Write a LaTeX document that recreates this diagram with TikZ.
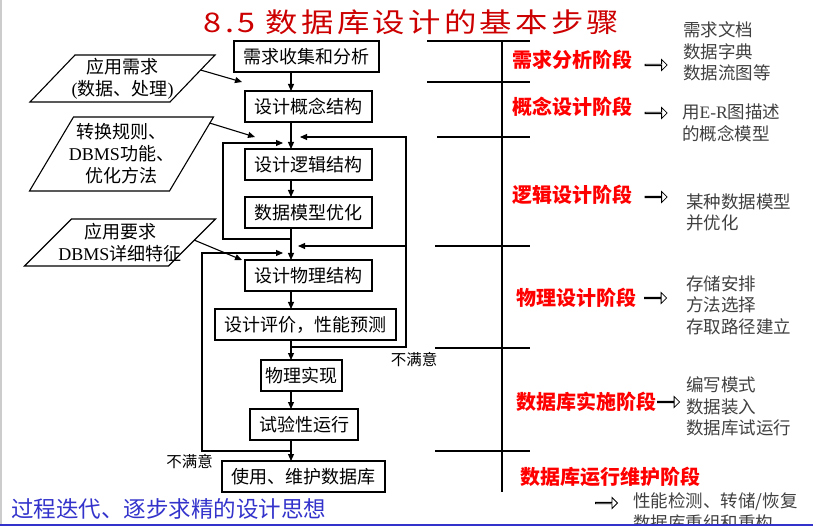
\documentclass[tikz,border=0pt]{standalone}
\usepackage{graphicx}
\usepackage{fontspec}
\setmainfont{Noto Sans CJK SC}
\newfontfamily\latser{Liberation Serif}
\usetikzlibrary{arrows.meta,positioning,calc,shapes.arrows}
\definecolor{ttlred}{RGB}{204,0,0}
\definecolor{stgred}{RGB}{255,0,0}
\definecolor{ttblue}{RGB}{51,51,204}
\definecolor{dscgray}{RGB}{64,64,64}

\begin{document}
\begin{tikzpicture}[x=1pt, y=-1pt,
  box/.style={draw, line width=1.1pt, minimum height=31pt, inner sep=0pt, outer sep=0pt, font=\fontsize{18}{22}\selectfont},
  para/.style={align=center, inner sep=0pt, outer sep=0pt, minimum height=47pt, font=\fontsize{18}{22}\selectfont},
  arr/.style={-{Triangle[length=7pt,width=6pt]}, line width=1.1pt},
  sep/.style={line width=1.1pt},
  stage/.style={font=\fontsize{20}{24}\selectfont\bfseries, text=stgred, inner sep=0pt},
  desc/.style={anchor=west, align=left, font=\fontsize{17.5}{21.5}\selectfont, text=dscgray, inner sep=0pt},
  imp/.style={single arrow, draw, line width=0.8pt, minimum height=22pt, minimum width=11pt, single arrow head extend=3pt, inner sep=0pt},
  lab/.style={font=\fontsize{15.5}{18}\selectfont, inner sep=0pt}]
\useasboundingbox (0,0) rectangle (813,526);
\draw[gray!40, line width=2pt] (1,0) -- (1,526);
\node[font=\fontsize{27}{30}\selectfont, text=ttlred, inner sep=0pt] (ttl) at (411.5,22.5) {\scalebox{1.2}[1]{\addfontfeature{LetterSpace=10}8.5 数据库设计的基本步骤}};
% main column
\coordinate (ax) at (291,0);
\node[box, minimum width=145pt] (b1) at (306.5,56.5) {需求收集和分析};
\node[box, minimum width=127pt, below=19pt of b1, xshift=2pt] (b2) {设计概念结构};
\node[box, minimum width=127pt, below=27pt of b2] (b3) {设计逻辑结构};
\node[box, minimum width=127pt, below=17pt of b3] (b4) {数据模型优化};
\node[box, minimum width=127pt, below=32pt of b4] (b5) {设计物理结构};
\node[box, minimum width=181pt, below=18pt of b5, xshift=-3pt] (b6) {设计评价，性能预测};
\node[box, minimum width=81pt, below=20pt of b6, xshift=-4pt] (b7) {物理实现};
\node[box, minimum width=108pt, below=18pt of b7, xshift=2.5pt] (b8) {试验性运行};
\node[box, minimum width=163pt, below=21pt of b8, xshift=-0.5pt] (b9) {使用、维护数据库};
\draw[arr] (b1.south -| ax) -- (b2.north -| ax);
\draw[arr] (b2.south -| ax) -- (b3.north -| ax);
\draw[arr] (b3.south -| ax) -- (b4.north -| ax);
\draw[arr] (b4.south -| ax) -- (b5.north -| ax);
\draw[arr] (b5.south -| ax) -- (b6.north -| ax);
\draw[arr] (b6.south -| ax) -- (b7.north -| ax);
\draw[arr] (b7.south -| ax) -- (b8.north -| ax);
\draw[arr] (b8.south -| ax) -- (b9.north -| ax);
% inputs
\node[para, minimum width=140pt] (p1) at (122.5,78.5) {应用需求\\{\latser(}数据、处理{\latser)}};
\node[para, minimum width=140pt, minimum height=74pt] (p2) at (121.5,154) {转换规则、\\{\latser DBMS}功能、\\优化方法};
\node[para, minimum width=144pt] (p3) at (120,242.5) {应用要求\\{\latser DBMS}详细特征};
\foreach \n/\s in {p1/22.5, p2/22, p3/23.5}
  \draw[line width=1.1pt] ([xshift=\s pt]\n.north west) -- ([xshift=\s pt]\n.north east)
    -- ([xshift=-\s pt]\n.south east) -- ([xshift=-\s pt]\n.south west) -- cycle;
\coordinate (t1) at (242,82);
\coordinate (t2) at (255,137);
\coordinate (t3) at (242,260);
\draw[arr] ([xshift=8pt, yshift=8.5pt]p1.east) -- (t1);
\draw[arr] ([xshift=18pt, yshift=31pt]p2.east) -- (t2);
\draw[arr] ([xshift=2pt, yshift=2.5pt]p3.east) -- (t3);
% feedback loops
\coordinate (lx1) at (223,0);
\coordinate (lx2) at (202,0);
\coordinate (rx) at (406,0);
\coordinate (j1) at (291,239);
\coordinate (j2) at (291,143);
\coordinate (j3) at (291,347);
\coordinate (j4) at (291,137);
\coordinate (j5) at (291,246);
\coordinate (j6) at (291,451);
\coordinate (j7) at (291,253);
\draw[arr, shorten >=8pt] (j1) -- (j1 -| lx1) |- (j2);
\draw[arr, shorten >=9pt] (j3) -- (j3 -| rx) |- (j4);
\draw[arr, shorten >=7pt] (j5 -| rx) -- (j5);
\draw[arr, shorten >=8pt] (j6) -- (j6 -| lx2) |- (j7);
\node[lab] (nm1) at (414,360) {不满意};
\node[lab] (nm2) at (189.5,462) {不满意};
% stages
\draw[sep] (502,41) -- (502,492);
\foreach \y/\x in {41/427, 82/427, 137/437, 246/435, 348/435, 451/435}
  \draw[sep] (\x,\y) -- (530,\y);
\node[stage] (s1) at (572.5,60) {需求分析阶段};
\node[stage] (s2) at (572.5,107) {概念设计阶段};
\node[stage] (s3) at (572.5,195) {逻辑设计阶段};
\node[stage] (s4) at (576,298) {物理设计阶段};
\node[stage] (s5) at (586,402) {数据库实施阶段};
\node[stage] (s6) at (610,477) {数据库运行维护阶段};
\node[desc] (d1) at (683,51.5) {需求文档\\数据字典\\数据流图等};
\node[desc] (d2) at (682,123) {用{\latser E-R}图描述\\的概念模型};
\node[desc] (d3) at (686,212.5) {某种数据模型\\并优化};
\node[desc] (d4) at (686,305) {存储安排\\方法选择\\存取路径建立};
\node[desc] (d5) at (686,406.5) {编写模式\\数据装入\\数据库试运行};
\node[desc] (d6) at (633,512) {性能检测、转储/恢复\\数据库重组和重构};
\node[imp, right=12pt of s1, yshift=-5pt] (i1) {};
\node[imp, right=12pt of s2, yshift=-6pt] (i2) {};
\node[imp, right=12pt of s3, yshift=-2pt] (i3) {};
\node[imp, right=8pt of s4] (i4) {};
\node[imp, right=1pt of s5] (i5) {};
\node[imp, left=15pt of d6.west, yshift=9pt] (i6) {};
% bottom
\node[font=\fontsize{22.5}{26}\selectfont, text=ttblue, anchor=west, inner sep=0pt] (motto) at (11,509) {过程迭代、逐步求精的设计思想};
\draw[ttblue, line width=2pt] (0,524.5) -- (813,524.5);
\end{tikzpicture}
\end{document}
